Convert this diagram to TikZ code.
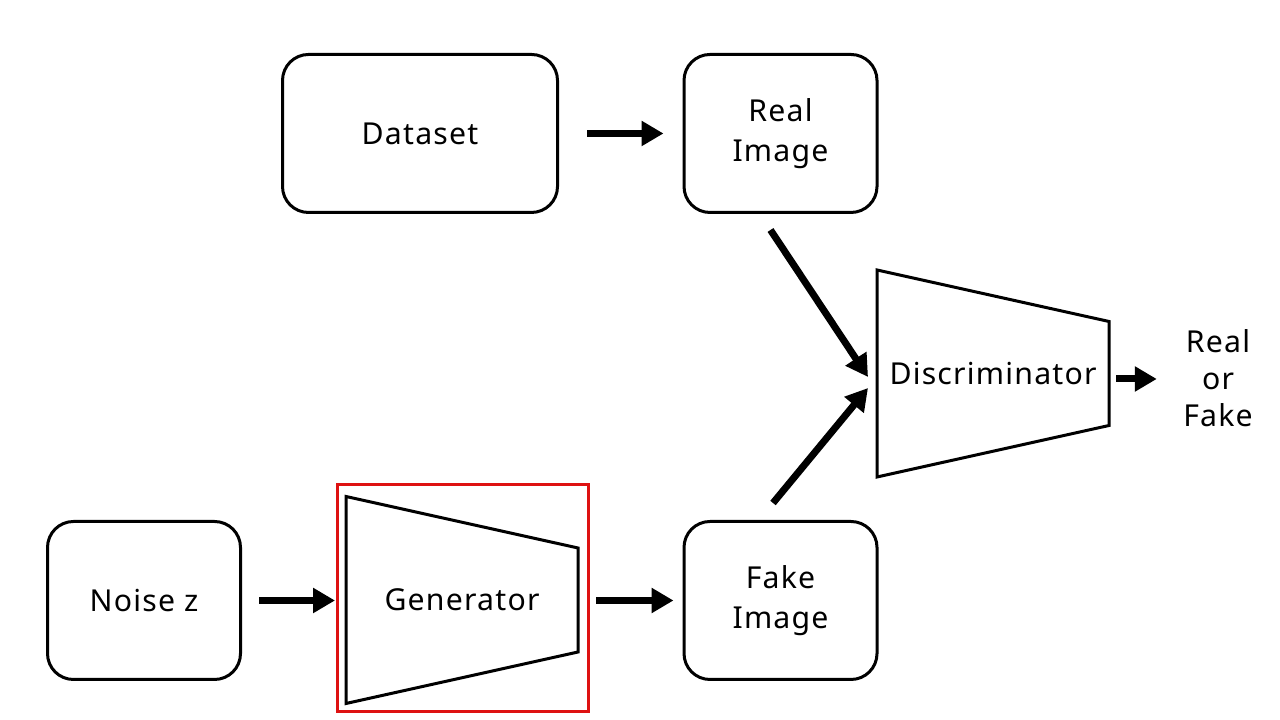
\documentclass[tikz,border=0pt]{standalone}
\usepackage{fontspec}
\setmainfont[LetterSpace=4]{Noto Sans}
\usepackage{tikz}
\usetikzlibrary{arrows.meta,calc}
\definecolor{framered}{RGB}{222,18,18}

\begin{document}
\begin{tikzpicture}[-{Triangle[length=0.22cm,width=0.24cm]},line width=0.07cm,
                    font=\fontsize{8.6}{11.2}\selectfont]
  \tikzstyle{block}=[rectangle,rounded corners=0.26cm,draw=black,line width=0.03cm,
                     fill=white,minimum width=1.93cm,minimum height=1.58cm,align=center,-]
  \tikzstyle{label}=[inner sep=0pt,align=center,-]
  \tikzstyle{trapline}=[-,line width=0.03cm,line join=miter]

  \useasboundingbox (0,0) rectangle (12.8,7.2);

  \node[block,minimum width=2.75cm] (data)  at (4.20,5.865) {Dataset};
  \node[block]                      (real)  at (7.805,5.865) {Real\\Image};
  \node[block]                      (noise) at (1.44,1.195) {Noise z};
  \node[block]                      (fake)  at (7.805,1.195) {Fake\\Image};

  \node[label] (gen)  at (4.62,1.20)  {Generator};
  \node[label] (disc) at (9.93,3.465) {Discriminator};
  \node[label,font=\fontsize{8.6}{10.6}\selectfont] (out) at (12.18,3.42) {Real\\or\\Fake};

  \foreach \t in {gen,disc}
    \draw[trapline] ($(\t)+(-1.16,1.035)$) -- ($(\t)+(1.16,0.52)$)
      -- ($(\t)+(1.16,-0.52)$) -- ($(\t)+(-1.16,-1.035)$) -- cycle;

  \node[draw=framered,line width=0.03cm,minimum width=2.51cm,minimum height=2.27cm,-]
    (frame) at (4.63,1.22) {};

  \draw ([xshift=0.28cm]data.east) -- ([xshift=-0.19cm]real.west);
  \draw ([xshift=0.17cm]noise.east) -- ([xshift=-0.01cm]frame.west|-noise.east);
  \draw ([xshift=0.06cm]frame.east|-fake.west) -- ([xshift=-0.09cm]fake.west);
  \draw ([xshift=-0.1cm,yshift=-0.16cm]real.south) -- ($(disc)+(-1.25,-0.035)$);
  \draw ([xshift=-0.075cm,yshift=0.17cm]fake.north) -- ($(disc)+(-1.25,-0.145)$);
  \draw ($(disc)+(1.23,-0.055)$) -- ([xshift=-0.23cm]out.west|-0,3.41);
\end{tikzpicture}
\end{document}
